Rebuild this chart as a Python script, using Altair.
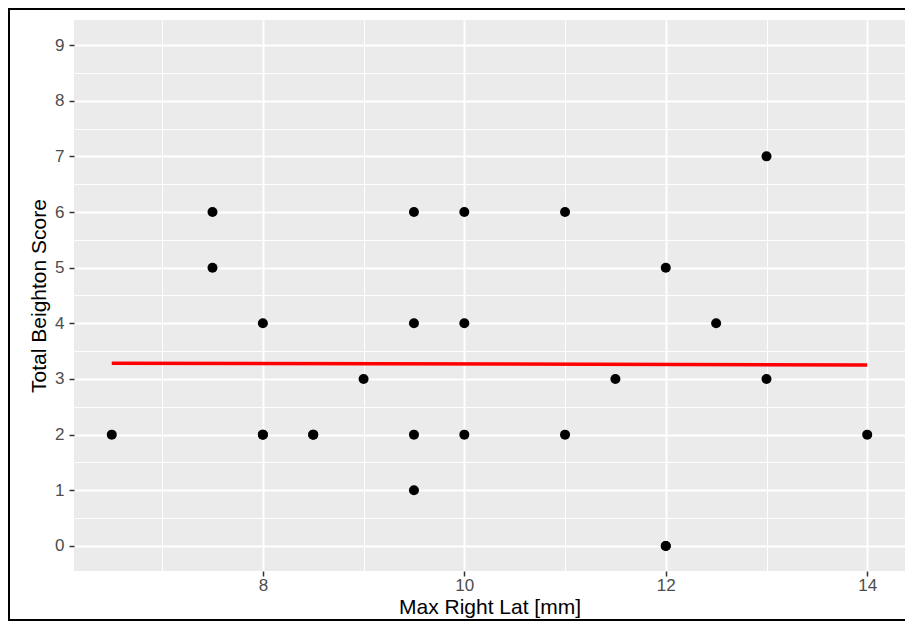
import altair as alt
import pandas as pd

# Max Right Lat [mm] and Total Beighton Score (a few points overlap exactly)
lat_mm = [6.5, 7.5, 7.5, 8, 8, 8, 8.5, 8.5, 9, 9.5, 9.5, 9.5, 9.5,
          10, 10, 10, 11, 11, 11.5, 12, 12, 12, 12.5, 13, 13, 14]
beighton = [2, 6, 5, 4, 2, 2, 2, 2, 3, 6, 4, 2, 1,
            6, 4, 2, 6, 2, 3, 5, 0, 0, 4, 7, 3, 2]

x_ticks = [7, 8, 9, 10, 11, 12, 13, 14]
y_ticks = [0, 0.5, 1, 1.5, 2, 2.5, 3, 3.5, 4, 4.5, 5, 5.5, 6, 6.5, 7, 7.5, 8, 8.5, 9]

df = pd.DataFrame({"lat": lat_mm, "score": beighton})

W, H = 831, 551

x_axis = alt.Axis(
    values=x_ticks,
    title="Max Right Lat [mm]",
    labelExpr="datum.value % 2 === 0 ? format(datum.value, 'd') : ''",
    gridWidth={"condition": {"test": "datum.value % 2 === 1", "value": 1}, "value": 2},
    tickOpacity={"condition": {"test": "datum.value % 2 === 1", "value": 0}, "value": 1},
    labelPadding=1.5,
    titlePadding=3,
)
y_axis = alt.Axis(
    values=y_ticks,
    title="Total Beighton Score",
    labelExpr="datum.value % 1 === 0 ? format(datum.value, 'd') : ''",
    gridWidth={"condition": {"test": "datum.value % 1 !== 0", "value": 1}, "value": 2},
    tickOpacity={"condition": {"test": "datum.value % 1 !== 0", "value": 0}, "value": 1},
    labelPadding=5,
    titlePadding=5,
)

xs = alt.Scale(domain=[6.125, 14.375], nice=False, zero=False)
ys = alt.Scale(domain=[-0.45, 9.45], nice=False, zero=False)

points = alt.Chart(df).mark_circle(size=100, color="black", opacity=1).encode(
    x=alt.X("lat:Q", scale=xs, axis=x_axis),
    y=alt.Y("score:Q", scale=ys, axis=y_axis),
)

fit = alt.Chart(df).transform_regression("lat", "score").mark_line(
    color="#FF0000", strokeWidth=3.5
).encode(
    x=alt.X("lat:Q", scale=xs, axis=x_axis),
    y=alt.Y("score:Q", scale=ys, axis=y_axis),
)

frame = alt.Chart(alt.Data(values=[{"a": 1}])).mark_rect(
    filled=False, stroke="black", strokeWidth=2, clip=False
).encode(
    x=alt.value(-65), x2=alt.value(W + 20),
    y=alt.value(-11), y2=alt.value(H + 49),
)

chart = alt.layer(points, fit, frame).properties(
    width=W, height=H,
    autosize=alt.AutoSizeParams(type="none"),
    padding={"left": 66, "top": 12, "right": 0, "bottom": 50},
    background="white",
).configure_view(
    fill="#EBEBEB", stroke=None
).configure_axis(
    gridColor="white",
    domain=False,
    tickColor="#333333",
    tickWidth=1.5,
    tickSize=5,
    labelColor="#4D4D4D",
    labelFont="Liberation Sans",
    labelFontSize=17,
    titleFont="Liberation Sans",
    titleFontSize=21,
    titleFontWeight="normal",
    titleColor="black",
)

chart.save("out.html", embed_options={"renderer": "svg", "actions": False})
